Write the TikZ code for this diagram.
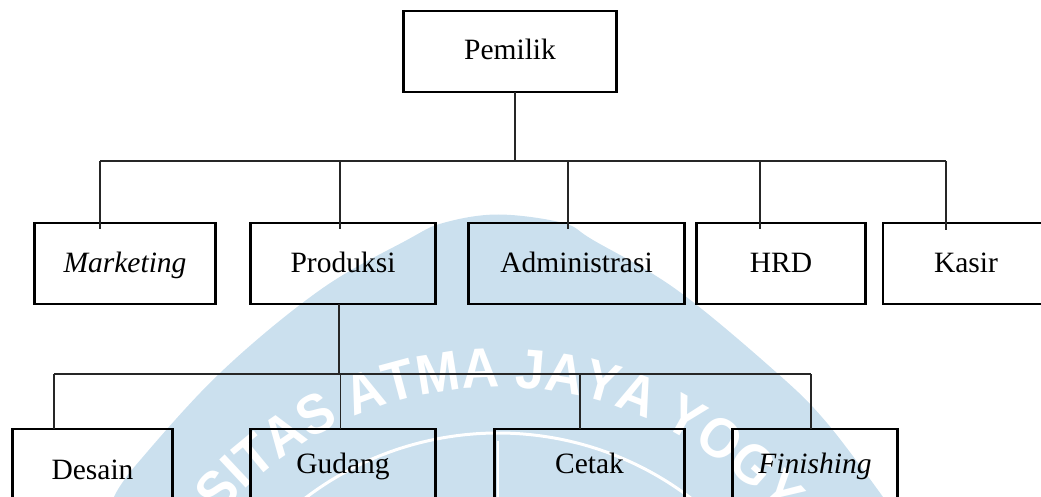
\documentclass[tikz,border=0pt]{standalone}
\usepackage{fontspec}
\setmainfont{Liberation Serif}
\newfontfamily\wmfont[FakeStretch=0.93]{Liberation Sans}
\usetikzlibrary{decorations.text}
\definecolor{wmblue}{HTML}{CBE0EE}
\tikzset{
  box/.style={draw=black,line width=2.8pt,rectangle,inner sep=0pt,outer sep=0pt,
    text height=20pt,text depth=3pt,font=\fontsize{29.5pt}{32pt}\selectfont},
  toprow/.style={box,minimum height=81pt},
  wire/.style={draw=black!85,line width=1.1pt},
  ring/.style={draw=white,line width=3pt}
}
\begin{document}
\begin{tikzpicture}[x=1pt,y=-1pt]
\useasboundingbox (0,0) rectangle (1041,497);
\clip (0,0) rectangle (1041,497);
% watermark
\fill[wmblue] plot[smooth,tension=0.6] coordinates {(114,497) (136,465) (220,373) (320,290) (407,240) (443,223) (498,214.5) (563,223) (593,240) (677,290) (777,373) (827,423) (883,497)} -- cycle;
\path[decorate,decoration={text along path,text align=left,text color=white,
   text={|\wmfont\bfseries\fontsize{56pt}{56pt}\selectfont|RSITAS ATMA JAYA YOGY}}]
  plot[smooth,domain=-55.8:88,samples=73] ({498.5+364*sin(\x)},{751-364*cos(\x)});
\draw[ring] plot[smooth,domain=-40:40,samples=41] ({498+318*sin(\x)},{751-318*cos(\x)});
\draw[draw=white,line width=2pt] (498,441) -- (498,497);
% nodes
\node[box,minimum width=213pt,minimum height=81pt] (pemilik) at (510,51.5) {Pemilik};
\node[toprow,minimum width=181pt,font=\fontsize{29.5pt}{32pt}\selectfont\itshape] (marketing) at (125,263.5) {Marketing};
\node[toprow,minimum width=185pt] (produksi) at (343,263.5) {Produksi};
\node[toprow,minimum width=216pt] (admin) at (576.5,263.5) {Administrasi};
\node[toprow,minimum width=169pt] (hrd) at (781,263.5) {HRD};
\node[toprow,minimum width=166pt] (kasir) at (966,263.5) {Kasir};
\node[box,minimum width=160pt,minimum height=83pt] (desain) at (92.5,470.5) {Desain};
\node[box,minimum width=185pt,minimum height=71pt] (gudang) at (343,464.5) {Gudang};
\node[box,minimum width=190pt,minimum height=71pt] (cetak) at (589.5,464.5) {Cetak};
\node[box,minimum width=165pt,minimum height=71pt,font=\fontsize{29.5pt}{32pt}\selectfont\itshape] (finishing) at (815,464.5) {Finishing};
% junctions
\coordinate (j0) at (515,161);
\coordinate (jm) at (100,161);
\coordinate (jp) at (340,161);
\coordinate (ja) at (568,161);
\coordinate (jh) at (760,161);
\coordinate (jk) at (946,161);
\coordinate (k0) at (339,374);
\coordinate (kd) at (54,374);
\coordinate (kg) at (340.5,374);
\coordinate (kc) at (580,374);
\coordinate (kf) at (811,374);
% connectors
\draw[wire] (j0 |- pemilik.south) -- (j0);
\draw[wire] (jm) -- (jk);
\draw[wire,shorten >=-6pt] (jm) -- (jm |- marketing.north);
\draw[wire,shorten >=-6pt] (jp) -- (jp |- produksi.north);
\draw[wire,shorten >=-6pt] (ja) -- (ja |- admin.north);
\draw[wire,shorten >=-6pt] (jh) -- (jh |- hrd.north);
\draw[wire,shorten >=-7pt] (jk) -- (jk |- kasir.north);
\draw[wire] (k0 |- produksi.south) -- (k0);
\draw[wire] (kd) -- (kf);
\draw[wire] (kd) -- (kd |- desain.north);
\draw[wire] (kg) -- (kg |- gudang.north);
\draw[wire] (kc) -- (kc |- cetak.north);
\draw[wire] (kf) -- (kf |- finishing.north);
\end{tikzpicture}
\end{document}
